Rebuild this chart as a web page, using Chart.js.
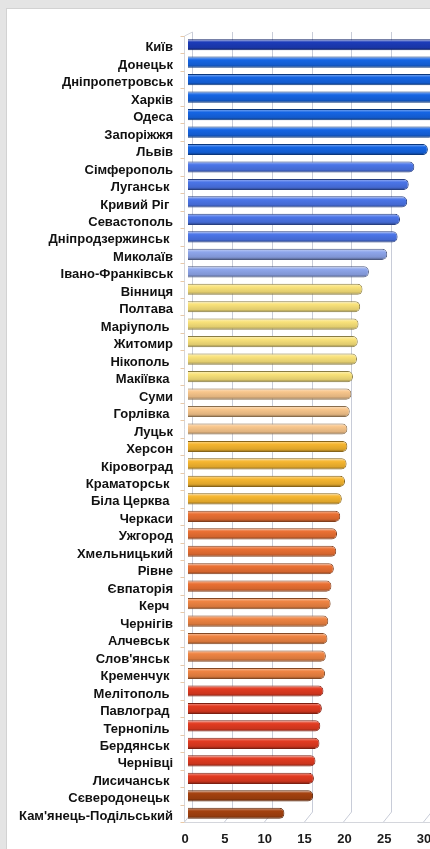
<!DOCTYPE html>
<html>
<head>
<meta charset="utf-8">
<script src="https://cdn.jsdelivr.net/npm/chart.js@4.4.1/dist/chart.umd.min.js"></script>
<style>
  html, body { margin: 0; padding: 0; width: 430px; height: 849px; overflow: hidden; background: #e4e4e4; }
  #panel { position: absolute; left: 6px; top: 8px; width: 460px; height: 880px; background: #fff; border: 1px solid #d2d2d2; }
  #c { position: absolute; left: 0; top: 0; }
</style>
</head>
<body>
<div id="panel"></div>
<canvas id="c" width="516" height="849"></canvas>
<script>
// categories (trailing spaces are in the original labels)
const cities = [
  'Київ', 'Донецьк', 'Дніпропетровськ', 'Харків', 'Одеса', 'Запоріжжя', 'Львів',
  'Сімферополь', 'Луганськ ', 'Кривий Ріг ', 'Севастополь', 'Дніпродзержинськ ',
  'Миколаїв', 'Івано-Франківськ', 'Вінниця', 'Полтава', 'Маріуполь ', 'Житомир',
  'Нікополь ', 'Макіївка ', 'Суми', 'Горлівка ', 'Луцьк', 'Херсон', 'Кіровоград',
  'Краматорськ ', 'Біла Церква ', 'Черкаси', 'Ужгород', 'Хмельницький', 'Рівне',
  'Євпаторія', 'Керч ', 'Чернігів', 'Алчевськ ', "Слов'янськ ", 'Кременчук ',
  'Мелітополь ', 'Павлоград ', 'Тернопіль ', 'Бердянськ ', 'Чернівці', 'Лисичанськ ',
  'Сєверодонецьк ', "Кам'янець-Подільський"
];

// values (top bars run past the cropped edge, estimated)
const values = [
  38.0, 35.5, 34.8, 34.0, 33.2, 30.9, 30.1,
  28.4, 27.7, 27.5, 26.6, 26.3,
  25.0, 22.7, 21.9, 21.6, 21.4, 21.3,
  21.2, 20.7, 20.5, 20.3, 20.0, 20.0, 19.9,
  19.7, 19.3, 19.1, 18.7, 18.6, 18.3,
  18.0, 17.9, 17.6, 17.5, 17.3, 17.2,
  17.0, 16.8, 16.6, 16.5, 16.0, 15.8,
  15.7, 12.1
];

const xTicksMin = 0;
const xTicksMax = 40;
const xTickStep = 5;

// colour groups
const cKyiv = '#1c3bb8', cBlue = '#1565e4', cMidBlue = '#4b75e8', cLightBlue = '#8ea6eb';
const cPaleYellow = '#f9e27a', cPeach = '#f8c68c', cGold = '#f6b630';
const cOrange = '#ea7033', cOrange2 = '#ef8443', cRed = '#e23b21', cBrown = '#a4410f';
const barColors = [
  cKyiv, cBlue, cBlue, cBlue, cBlue, cBlue, cBlue,
  cMidBlue, cMidBlue, cMidBlue, cMidBlue, cMidBlue,
  cLightBlue, cLightBlue,
  cPaleYellow, cPaleYellow, cPaleYellow, cPaleYellow, cPaleYellow, cPaleYellow,
  cPeach, cPeach, cPeach,
  cGold, cGold, cGold, cGold,
  cOrange, cOrange, cOrange, cOrange, cOrange,
  cOrange2, cOrange2, cOrange2, cOrange2, cOrange2,
  cRed, cRed, cRed, cRed, cRed, cRed,
  cBrown, cBrown
];

function mix(hex, target, k) {
  const n = parseInt(hex.slice(1), 16);
  const r = n >> 16, g = (n >> 8) & 255, b = n & 255;
  const m = c => Math.round(c + (target - c) * k);
  return 'rgb(' + m(r) + ',' + m(g) + ',' + m(b) + ')';
}

const BAR_PCT = 0.64;

function barFill(ctx) {
  const chart = ctx.chart;
  const base = barColors[ctx.dataIndex];
  if (!chart.chartArea || !chart.scales.y) return base;
  const y = chart.scales.y;
  const yc = y.getPixelForValue(ctx.dataIndex);
  const h = (chart.chartArea.bottom - chart.chartArea.top) / cities.length * BAR_PCT;
  const g = chart.ctx.createLinearGradient(0, yc - h / 2, 0, yc + h / 2);
  g.addColorStop(0, mix(base, 255, 0.5));
  g.addColorStop(0.3, base);
  g.addColorStop(0.75, mix(base, 0, 0.1));
  g.addColorStop(1, mix(base, 0, 0.45));
  return g;
}

// back wall grid, floor and left edge of the 3d frame
const frame3d = {
  id: 'frame3d',
  beforeDatasetsDraw(chart) {
    const { ctx, chartArea: a, scales: { x, y } } = chart;
    ctx.save();
    ctx.lineWidth = 1;
    ctx.strokeStyle = '#c8ccd8';
    x.ticks.forEach(t => {
      const px = Math.round(x.getPixelForValue(t.value)) + 4.5;
      ctx.beginPath();
      ctx.moveTo(px, a.top - 4);
      ctx.lineTo(px, a.bottom - 10);
      ctx.lineTo(px - 8, a.bottom);
      ctx.stroke();
    });
    const x0 = Math.round(x.getPixelForValue(0)) - 3.5;
    ctx.strokeStyle = '#d4d6dc';
    ctx.beginPath();
    ctx.moveTo(x0 + 8, a.top - 4);
    ctx.lineTo(x0, a.top);
    ctx.lineTo(x0, a.bottom + 0.5);
    ctx.lineTo(a.right, a.bottom + 0.5);
    ctx.stroke();
    const step = (a.bottom - a.top) / cities.length;
    ctx.strokeStyle = '#e8c9a8';
    for (let i = 0; i <= cities.length; i++) {
      const py = Math.round(a.top + i * step) + 0.5;
      ctx.beginPath();
      ctx.moveTo(x0 - 4, py);
      ctx.lineTo(x0, py);
      ctx.stroke();
    }
    ctx.restore();
  }
};

new Chart(document.getElementById('c'), {
  type: 'bar',
  data: {
    labels: cities,
    datasets: [{
      data: values,
      backgroundColor: barFill,
      borderColor: ctx => mix(barColors[ctx.dataIndex], 0, 0.45),
      borderWidth: 1,
      borderRadius: 5,
      borderSkipped: 'start',
      barPercentage: BAR_PCT,
      categoryPercentage: 1
    }]
  },
  options: {
    indexAxis: 'y',
    responsive: false,
    animation: false,
    layout: { padding: { left: 6, top: 36, right: 0, bottom: 0 } },
    plugins: { legend: { display: false }, tooltip: { enabled: false } },
    scales: {
      x: {
        min: xTicksMin,
        max: xTicksMax,
        grid: { display: false },
        border: { display: false },
        ticks: {
          stepSize: xTickStep,
          labelOffset: -3,
          padding: 2,
          color: '#1a1a1a',
          font: { family: 'Liberation Sans, Arial', size: 13, weight: 'bold' }
        },
        afterFit: s => { s.height = 27; }
      },
      y: {
        grid: { display: false },
        border: { display: false },
        ticks: {
          autoSkip: false,
          padding: 7,
          labelOffset: 3,
          color: '#111',
          font: { family: 'Liberation Sans, Arial', size: 13, weight: 'bold' }
        },
        afterFit: s => { s.width = 182; }
      }
    }
  },
  plugins: [frame3d]
});
</script>
</body>
</html>
